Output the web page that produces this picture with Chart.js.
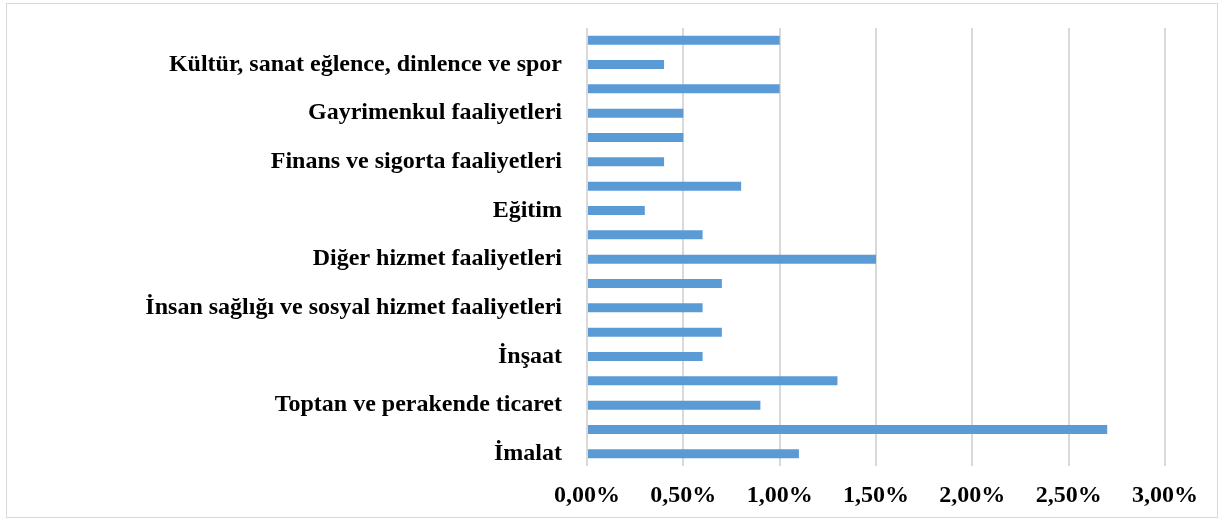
<!DOCTYPE html>
<html>
<head>
<meta charset="utf-8">
<script src="https://cdn.jsdelivr.net/npm/chart.js@4"></script>
<style>
  body { margin: 0; background: #fff; }
  #wrap { position: relative; width: 1223px; height: 521px; }
  #frame { position: absolute; left: 6px; top: 3px; width: 1210px; height: 513px; border: 1px solid #d9d9d9; }
  canvas { position: absolute; left: 0; top: 0; }
</style>
</head>
<body>
<div id="wrap">
  <div id="frame"></div>
  <canvas id="myChart" width="1223" height="521"></canvas>
</div>
<script>
// Sector labels, top to bottom (every other row has no label in the original)
const sectors = [
    '',
    'Kültür, sanat eğlence, dinlence ve spor',
    '',
    'Gayrimenkul faaliyetleri',
    '',
    'Finans ve sigorta faaliyetleri',
    '',
    'Eğitim',
    '',
    'Diğer hizmet faaliyetleri',
    '',
    'İnsan sağlığı ve sosyal hizmet faaliyetleri',
    '',
    'İnşaat',
    '',
    'Toptan ve perakende ticaret',
    '',
    'İmalat'
];

// Values in percent, same order
const shares = [1.00, 0.40, 1.00, 0.50, 0.50, 0.40, 0.80, 0.30, 0.60, 1.50, 0.70, 0.60, 0.70, 0.60, 1.30, 0.90, 2.70, 1.10];

// X axis ticks
const xMin = 0;
const xMax = 3.0;
const xStep = 0.5;

const ctx = document.getElementById('myChart').getContext('2d');

new Chart(ctx, {
    type: 'bar',
    data: {
        labels: sectors,
        datasets: [{
            data: shares,
            backgroundColor: '#5b9bd5',
            borderWidth: 0,
            barPercentage: 0.74,
            categoryPercentage: 0.5
        }]
    },
    options: {
        indexAxis: 'y',
        responsive: false,
        animation: false,
        layout: {
            padding: { top: 28, right: 58, left: 0, bottom: 0 }
        },
        plugins: {
            legend: { display: false },
            tooltip: { enabled: false }
        },
        scales: {
            x: {
                min: xMin,
                max: xMax,
                border: { display: false },
                grid: { color: '#d9d9d9', lineWidth: 2, drawTicks: false },
                afterFit: function (scale) {
                    scale.height = 55;
                    scale.paddingLeft = 0;
                    scale.paddingRight = 0;
                },
                ticks: {
                    stepSize: xStep,
                    padding: 15,
                    color: '#000',
                    font: { family: 'Liberation Serif', size: 24, weight: 'bold' },
                    callback: function (value) {
                        return value.toFixed(2).replace('.', ',') + '%';
                    }
                }
            },
            y: {
                border: { display: false },
                grid: { display: false },
                afterFit: function (scale) {
                    scale.width = 587;
                    scale.paddingTop = 0;
                    scale.paddingBottom = 0;
                },
                ticks: {
                    autoSkip: false,
                    padding: 17,
                    color: '#000',
                    font: { family: 'Liberation Serif', size: 24, weight: 'bold' }
                }
            }
        }
    }
});
</script>
</body>
</html>
